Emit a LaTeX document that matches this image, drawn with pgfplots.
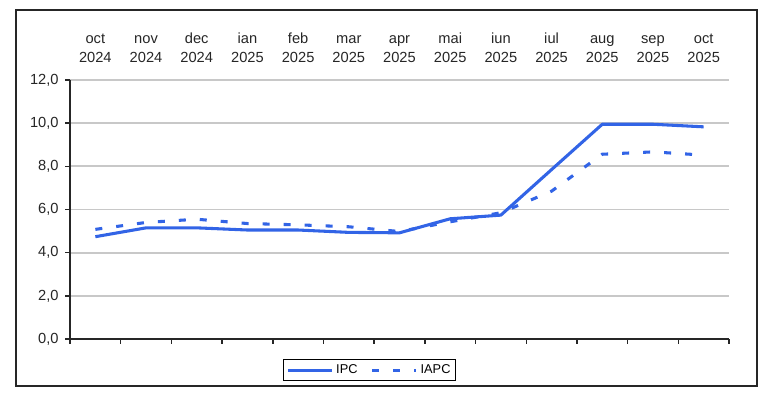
\documentclass[border=0pt]{standalone}
\usepackage{pgfplots}
\pgfplotsset{compat=1.18}
\usepackage{fontspec}
\setmainfont{Liberation Sans}
\definecolor{lineblue}{RGB}{50,100,230}
\definecolor{gridgray}{RGB}{200,200,200}
\pgfplotstableread{
x ipc iapc
0 4.74 5.08
1 5.15 5.40
2 5.15 5.55
3 5.05 5.35
4 5.05 5.29
5 4.94 5.20
6 4.92 4.98
7 5.57 5.43
8 5.74 5.85
9 7.85 6.85
10 9.95 8.56
11 9.95 8.67
12 9.83 8.52
}\datatable
\begin{document}
\begin{tikzpicture}
\useasboundingbox (0pt,0pt) rectangle (577.5pt,-300pt);
\draw[black!85, line width=1.2pt] (12pt,-7.5pt) rectangle (567.75pt,-289.5pt);
\begin{axis}[
  at={(52.5pt,-254.25pt)}, anchor=south west,
  scale only axis, width=494.25pt, height=194.25pt,
  xmin=-0.5, xmax=12.5, ymin=0, ymax=12,
  axis x line*=bottom, axis y line*=left,
  axis line style={black!85, line width=1.1pt},
  xtick={-0.5,0.5,...,12.5}, xticklabels={},
  ytick={0,2,...,12},
  tick align=outside, major tick length=3.5pt,
  tick style={black!85, line width=1.1pt},
  ymajorgrids, grid style={gridgray, line width=1.3pt},
  yticklabel style={font=\fontsize{11}{13}\selectfont, color=black!85, xshift=-1.5pt},
  /pgf/number format/assume math mode=true,
  /pgf/number format/use comma, /pgf/number format/fixed,
  /pgf/number format/fixed zerofill, /pgf/number format/precision=1,
  clip=false,
  legend style={at={(0.455,-0.12)}, anchor=center, draw=black, line width=0.9pt,
    font=\fontsize{9.6}{11}\selectfont, legend columns=2, inner sep=2pt,
    /tikz/every even column/.append style={column sep=8pt}},
  legend image code/.code={\draw[#1] (0pt,0pt) -- (33pt,0pt);},
]
\addplot[lineblue, line width=2.3pt, line join=round] table[x=x, y=ipc] {\datatable};
\addlegendentry{IPC}
\addplot[lineblue, line width=2.3pt, dash pattern=on 5.25pt off 10.5pt] table[x=x, y=iapc] {\datatable};
\addlegendentry{IAPC}
\foreach \i/\m/\yy in {0/oct/2024,1/nov/2024,2/dec/2024,3/ian/2025,4/feb/2025,5/mar/2025,6/apr/2025,7/mai/2025,8/iun/2025,9/iul/2025,10/aug/2025,11/sep/2025,12/oct/2025}{
  \edef\tmp{\noexpand\node[anchor=south, align=center, inner sep=0pt, yshift=12.5pt, color=black!85,
    font=\noexpand\fontsize{11}{14.2}\noexpand\selectfont] at (axis cs:\i,12) {\m\noexpand\\\yy};}
  \tmp
}
\end{axis}
\end{tikzpicture}
\end{document}
